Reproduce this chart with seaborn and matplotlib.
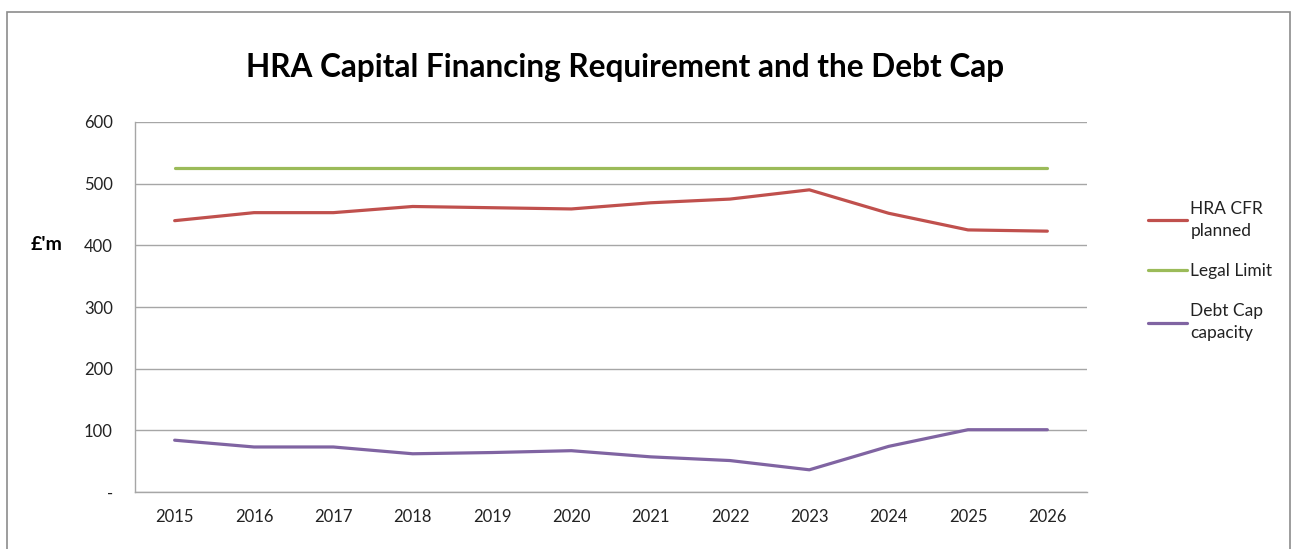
import matplotlib
matplotlib.use("Agg")
import matplotlib.pyplot as plt
import seaborn as sns
import pandas as pd
import numpy as np
from matplotlib.patches import Rectangle

years = [2015, 2016, 2017, 2018, 2019, 2020, 2021, 2022, 2023, 2024, 2025, 2026]
hra_cfr = [440, 453, 453, 463, 461, 459, 469, 475, 490, 452, 425, 423]
legal_limit = [525] * 12
debt_cap = [84, 73, 73, 62, 64, 67, 57, 51, 36, 74, 101, 101]
series_names = ["HRA CFR\nplanned", "Legal Limit", "Debt Cap\ncapacity"]
colors = ["#C0504D", "#9BBB59", "#8064A2"]
y_ticks = [0, 100, 200, 300, 400, 500, 600]
y_labels = ["-", "100", "200", "300", "400", "500", "600"]

sns.set_style("white")
plt.rcParams["font.family"] = ["Lato", "DejaVu Sans"]

rows = []
for name, vals in zip(series_names, [hra_cfr, legal_limit, debt_cap]):
    for i, v in enumerate(vals):
        rows.append({"idx": i, "value": v, "series": name})
df = pd.DataFrame(rows)

fig = plt.figure(figsize=(12.98, 5.49), dpi=100)
ax = fig.add_axes([135/1298, 1-492/549, (1087-135)/1298, (492-122)/549])

sns.lineplot(data=df, x="idx", y="value", hue="series", palette=colors,
             hue_order=series_names, linewidth=2.3, ax=ax, legend=True)

ax.set_xlim(-0.5, 11.5)
ax.set_ylim(0, 600)
ax.set_yticks(y_ticks)
ax.set_yticklabels(y_labels)
ax.set_xticks(range(len(years)))
ax.set_xticklabels([str(y) for y in years])
ax.set_xticks(np.arange(-0.5, 12, 1), minor=True)
ax.tick_params(axis="x", which="major", length=0, pad=12, labelsize=12, labelcolor="#222222")
ax.tick_params(axis="x", which="minor", length=6, color="#A6A6A6", direction="out", width=1)
ax.tick_params(axis="y", length=5, color="#A6A6A6", direction="out", width=1, pad=11,
               labelsize=12, labelcolor="#222222")
ax.grid(axis="y", color="#A6A6A6", linewidth=1)
ax.set_axisbelow(True)
for s in ["top", "right"]:
    ax.spines[s].set_visible(False)
for s in ["left", "bottom"]:
    ax.spines[s].set_color("#A6A6A6")
    ax.spines[s].set_linewidth(1)
ax.set_xlabel("")
ax.set_ylabel("")

handles, labels = ax.get_legend_handles_labels()
leg = ax.legend(handles, labels, loc="upper left", bbox_to_anchor=(1141/1298, 1-194/549),
                bbox_transform=fig.transFigure, frameon=False, fontsize=12.5,
                handlelength=2.25, handletextpad=0.2, labelspacing=1.4, borderaxespad=0)
for t in leg.get_texts():
    t.set_linespacing(1.45)
    t.set_color("#222222")

fig.text(625/1298, 1-68/549, "HRA Capital Financing Requirement and the Debt Cap",
         ha="center", va="center", fontsize=22.7, fontweight="bold", color="black")
fig.text(47/1298, 1-244/549, "£'m", ha="center", va="center", fontsize=14,
         fontweight="bold", color="black")

fig.patches.append(Rectangle((7/1298, -0.05), (1290-7)/1298, 1.05-12/549,
                             transform=fig.transFigure, fill=False,
                             edgecolor="#8C8C8C", linewidth=1.2))

fig.savefig("out.png", dpi=100)
